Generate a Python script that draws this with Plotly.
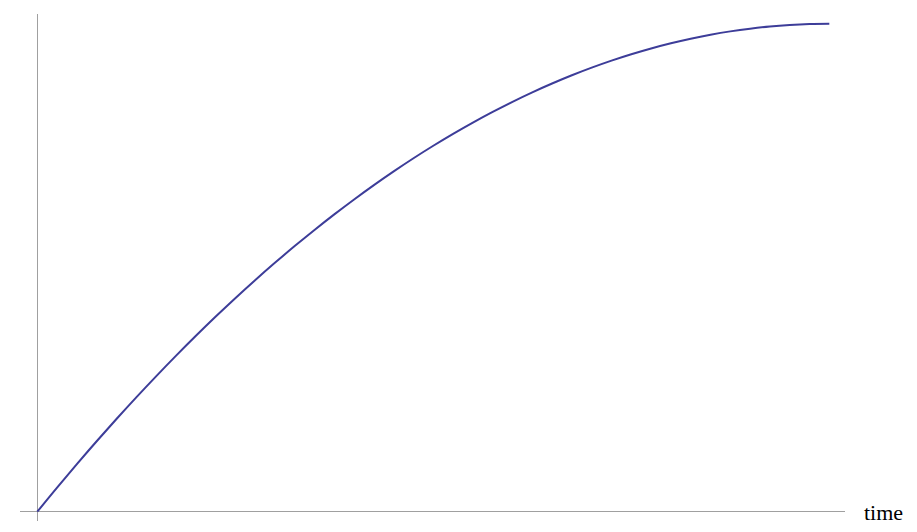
import plotly.graph_objects as go

# values
time = [0, 0.25, 0.5, 0.75, 1, 1.25, 1.5, 1.75, 2, 2.25, 2.5,
        2.75, 3, 3.25, 3.5, 3.75, 4, 4.25, 4.5, 4.75, 5,
        5.25, 5.5, 5.75, 6, 6.25, 6.5, 6.75, 7, 7.25, 7.5,
        7.75, 8, 8.25, 8.5, 8.75, 9, 9.25, 9.5, 9.75, 10]
value = [0, 4.94, 9.75, 14.44, 19, 23.44, 27.75, 31.94, 36, 39.94, 43.75,
         47.44, 51, 54.44, 57.75, 60.94, 64, 66.94, 69.75, 72.44, 75,
         77.44, 79.75, 81.94, 84, 85.94, 87.75, 89.44, 91, 92.44, 93.75,
         94.94, 96, 96.94, 97.75, 98.44, 99, 99.44, 99.75, 99.94, 100]

fig = go.Figure()

fig.add_trace(go.Scatter(
    x=time,
    y=value,
    mode="lines",
    line=dict(color="#3d3d99", width=2, shape="spline"),
    hoverinfo="skip",
    showlegend=False,
))

axis_style = dict(
    showgrid=False,
    showline=False,
    showticklabels=False,
    ticks="",
    zeroline=True,
    zerolinecolor="#a0a0a0",
    zerolinewidth=1,
)

# page body adds an 8px margin, so the figure is sized to fit inside it
fig.update_layout(
    width=901,
    height=516,
    margin=dict(l=12, r=64, t=6, b=3),
    paper_bgcolor="white",
    plot_bgcolor="white",
    xaxis=dict(range=[-0.218, 10.198], **axis_style),
    yaxis=dict(range=[-1.9, 102.0], **axis_style),
    annotations=[dict(
        text="time",
        xref="paper", x=1, xanchor="left", xshift=17,
        yref="y", y=0, yanchor="middle", yshift=-1,
        showarrow=False,
        font=dict(family="Times New Roman", size=22, color="black"),
    )],
)

fig.write_html("out.html")
